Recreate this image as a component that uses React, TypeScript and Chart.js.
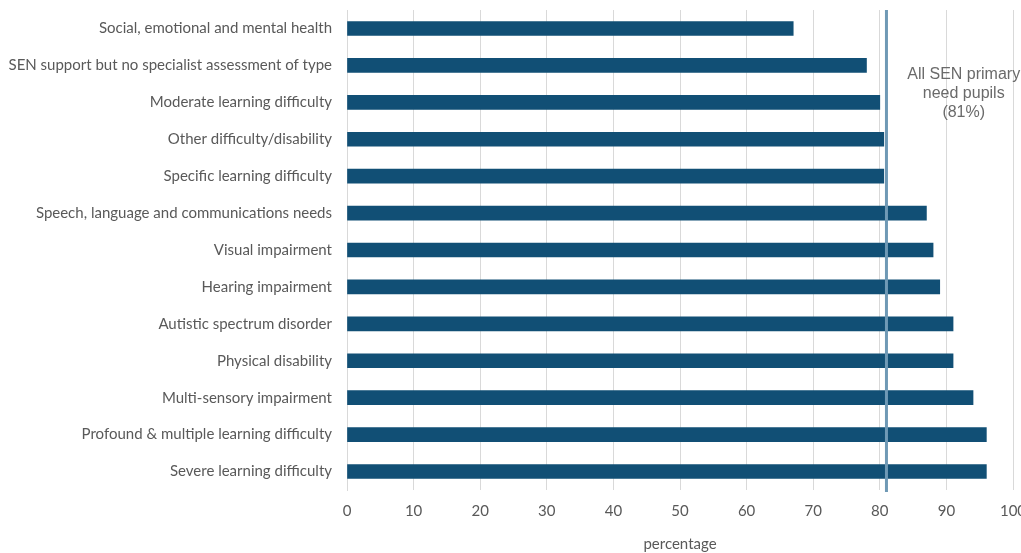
import React, { useEffect, useRef } from "react";
import { Chart, registerables } from "chart.js";

Chart.register(...registerables);

// Share of pupils by primary type of need (percentage)
const categories = [
  "Social, emotional and mental health",
  "SEN support but no specialist assessment of type",
  "Moderate learning difficulty",
  "Other difficulty/disability",
  "Specific learning difficulty",
  "Speech, language and communications needs",
  "Visual impairment",
  "Hearing impairment",
  "Autistic spectrum disorder",
  "Physical disability",
  "Multi-sensory impairment",
  "Profound & multiple learning difficulty",
  "Severe learning difficulty",
];

const percentages = [67, 78, 80, 80.6, 80.6, 87, 88, 89, 91, 91, 94, 96, 96];

// Average across all SEN primary need pupils
const allPupilsValue = 81;
const allPupilsLabel = ["All SEN primary", "need pupils", "(81%)"];

const xTicks = [0, 10, 20, 30, 40, 50, 60, 70, 80, 90, 100];

const TEXT_GREY = "#595959";
const BAR_BLUE = "#114f75";
const LINE_BLUE = "#6f99b5";
const LABEL_FONT = "Lato, 'Open Sans', sans-serif";

const referenceLine = {
  id: "referenceLine",
  afterDatasetsDraw(chart: any) {
    const { ctx, chartArea, scales } = chart;
    const x = scales.x.getPixelForValue(allPupilsValue);
    ctx.save();
    ctx.strokeStyle = LINE_BLUE;
    ctx.lineWidth = 3;
    ctx.beginPath();
    ctx.moveTo(x, chartArea.top);
    ctx.lineTo(x, chartArea.bottom + 2);
    ctx.stroke();

    const tx = scales.x.getPixelForValue(92.6);
    ctx.fillStyle = "#6a6a6a";
    ctx.font = '16px "Liberation Sans", Arial, sans-serif';
    ctx.textAlign = "center";
    ctx.textBaseline = "middle";
    allPupilsLabel.forEach((line, i) => {
      ctx.fillText(line, tx, 75 + i * 19);
    });
    ctx.restore();
  },
};

export default function App() {
  const canvasRef = useRef<HTMLCanvasElement>(null);

  useEffect(() => {
    document.body.style.margin = "0";
    document.body.style.overflow = "hidden";
    const canvas = canvasRef.current;
    if (!canvas) return;

    const chart = new Chart(canvas, {
      type: "bar",
      data: {
        labels: categories,
        datasets: [
          {
            data: percentages,
            backgroundColor: BAR_BLUE,
            barThickness: 14,
          },
        ],
      },
      options: {
        indexAxis: "y",
        animation: false,
        responsive: false,
        maintainAspectRatio: false,
        layout: { padding: { top: 10, right: 9, left: 0, bottom: 0 } },
        plugins: {
          legend: { display: false },
          tooltip: { enabled: false },
        },
        scales: {
          x: {
            min: 0,
            max: 100,
            afterBuildTicks(scale: any) {
              scale.ticks = xTicks.map((v) => ({ value: v }));
            },
            afterFit(scale: any) {
              scale.height = 63;
              scale.paddingRight = 0;
              scale.paddingLeft = 0;
            },
            grid: {
              color: "#d9d9d9",
              lineWidth: 1,
              drawTicks: false,
            },
            border: { display: false },
            ticks: {
              color: TEXT_GREY,
              padding: 12,
              font: { family: LABEL_FONT, size: 15 },
            },
            title: {
              display: true,
              text: "percentage",
              color: TEXT_GREY,
              padding: { top: 0, bottom: 0 },
              font: { family: LABEL_FONT, size: 15 },
            },
          },
          y: {
            afterFit(scale: any) {
              scale.width = 347;
              scale.paddingTop = 0;
              scale.paddingBottom = 0;
            },
            grid: { display: false, drawTicks: false },
            border: { display: true, color: "#d9d9d9", width: 1 },
            ticks: {
              color: TEXT_GREY,
              padding: 15,
              font: { family: LABEL_FONT, size: 15 },
            },
          },
        },
      },
      plugins: [referenceLine],
    });

    return () => chart.destroy();
  }, []);

  return (
    <div style={{ position: "absolute", left: 0, top: 0, width: 1030, height: 553 }}>
      <canvas ref={canvasRef} width={1022} height={553} />
    </div>
  );
}
